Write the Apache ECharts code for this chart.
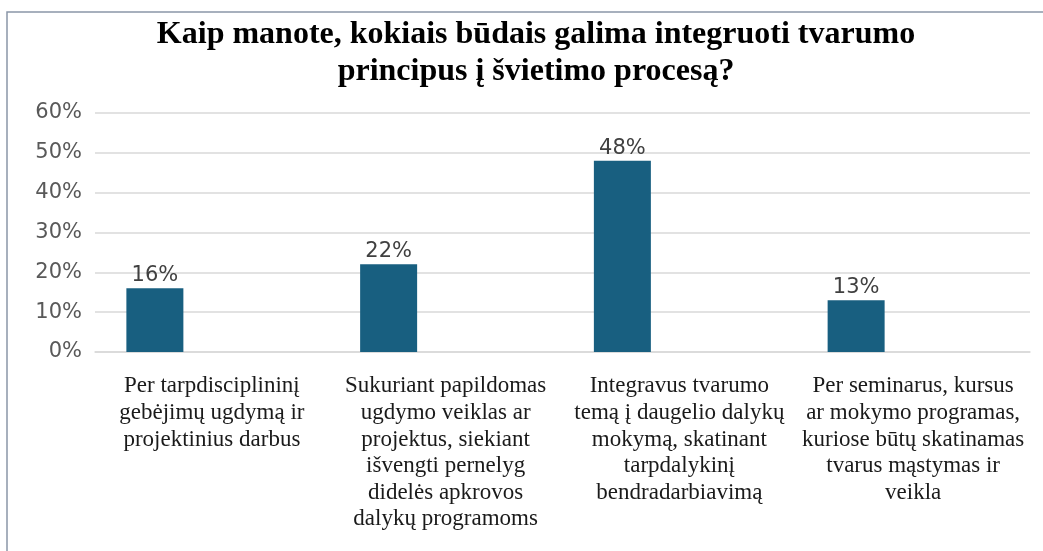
<!DOCTYPE html>
<html>
<head>
<meta charset="utf-8">
<style>
  html, body { margin: 0; padding: 0; background: #fff; }
  #chart { width: 1043px; height: 551px; }
</style>
</head>
<body>
<div id="chart"></div>
<script src="https://cdnjs.cloudflare.com/ajax/libs/echarts/6.0.0/echarts.min.js"></script>
<script type="text/javascript">
    var categories = [
        'Per tarpdisciplininį\ngebėjimų ugdymą ir\nprojektinius darbus',
        'Sukuriant papildomas\nugdymo veiklas ar\nprojektus, siekiant\nišvengti pernelyg\ndidelės apkrovos\ndalykų programoms',
        'Integravus tvarumo\ntemą į daugelio dalykų\nmokymą, skatinant\ntarpdalykinį\nbendradarbiavimą',
        'Per seminarus, kursus\nar mokymo programas,\nkuriose būtų skatinamas\ntvarus mąstymas ir\nveikla'
    ];
    var values = [16, 22, 48, 13];
    var emptySeries = [null, null, null, null];

    var myChart = echarts.init(document.getElementById('chart'));

    var option = {
        backgroundColor: '#fff',
        animation: false,
        title: {
            text: 'Kaip manote, kokiais būdais galima integruoti tvarumo\nprincipus į švietimo procesą?',
            left: 531,
            textAlign: 'center',
            top: 11,
            textStyle: {
                fontFamily: 'Liberation Serif',
                fontWeight: 'bold',
                fontSize: 32,
                lineHeight: 37,
                color: '#000'
            }
        },
        graphic: [{
            type: 'polyline',
            shape: { points: [[7, 551], [7, 12], [1043, 12]] },
            style: { stroke: '#8a96a8', lineWidth: 1.5, fill: null }
        }],
        grid: {
            left: 95,
            right: 13,
            top: 113,
            bottom: 199
        },
        xAxis: {
            type: 'category',
            data: categories,
            axisTick: { show: false },
            axisLine: { lineStyle: { color: '#d9d9d9', width: 1.5 } },
            axisLabel: {
                interval: 0,
                margin: 21,
                fontFamily: 'Liberation Serif',
                fontSize: 23,
                lineHeight: 26.6,
                color: '#1a1a1a',
                align: 'center'
            }
        },
        yAxis: {
            type: 'value',
            min: 0,
            max: 60,
            interval: 10,
            axisLine: { show: false },
            axisTick: { show: false },
            splitLine: { lineStyle: { color: '#d9d9d9', width: 1.5 } },
            axisLabel: {
                formatter: '{value}%',
                margin: 13,
                fontFamily: 'DejaVu Sans',
                fontSize: 21,
                color: '#595959'
            }
        },
        series: [{
            name: 'share',
            type: 'bar',
            data: values,
            barWidth: 57,
            barGap: '100%',
            itemStyle: { color: '#185f80' },
            label: {
                show: true,
                position: 'top',
                distance: 2,
                formatter: '{c}%',
                fontFamily: 'DejaVu Sans',
                fontSize: 21,
                color: '#404040'
            }
        }, {
            name: 'empty',
            type: 'bar',
            data: emptySeries,
            barWidth: 57
        }]
    };

    myChart.setOption(option);
</script>
</body>
</html>
